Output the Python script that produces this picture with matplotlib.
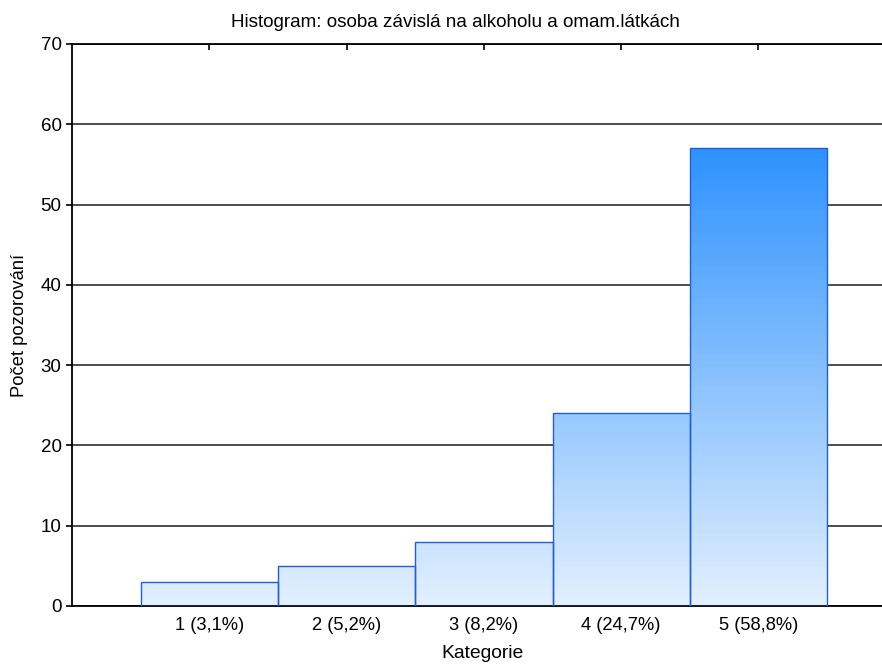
import matplotlib.pyplot as plt
import numpy as np
from matplotlib.colors import LinearSegmentedColormap

plt.rcParams['font.family'] = ['Liberation Sans', 'DejaVu Sans']

categories = [1, 2, 3, 4, 5]
labels = ["1 (3,1%)", "2 (5,2%)", "3 (8,2%)", "4 (24,7%)", "5 (58,8%)"]
counts = [3, 5, 8, 24, 57]

fig = plt.figure(figsize=(8.82, 6.70), dpi=100)
ax = fig.add_axes([72 / 882, 64 / 670, 810 / 882, 562 / 670])

ax.yaxis.grid(True, color='#303030', linewidth=1.2)
ax.set_axisbelow(True)

# vertical gradient shared by all bars
cmap = LinearSegmentedColormap.from_list('blu', ['#e3f0fe', '#2e92ff'])
grad = np.linspace(0, 1, 256).reshape(-1, 1)
top = max(counts)

bars = ax.bar(categories, counts, width=1.0, facecolor='none',
              edgecolor='#1f5ed8', linewidth=1.0, zorder=3)
for b in bars:
    im = ax.imshow(grad, cmap=cmap, aspect='auto', origin='lower',
                   extent=(0, 5.9, 0, top), zorder=2)
    im.set_clip_path(b)

ax.set_xlim(0, 5.9)
ax.set_ylim(0, 70)

ax.set_xticks(categories)
ax.set_xticklabels(labels, fontsize=13.2)
ax.set_yticks(range(0, 71, 10))
ax.tick_params(axis='y', labelsize=13.5, direction='out', length=4, width=1.2)
ax.tick_params(axis='x', direction='in', length=4, width=1.2, top=True, pad=8)

for s in ['left', 'bottom', 'top']:
    ax.spines[s].set_linewidth(1.3)
ax.spines['right'].set_visible(False)

ax.set_title("Histogram: osoba závislá na alkoholu a omam.látkách",
             fontsize=13.6, pad=12, x=0.473)
ax.set_xlabel("Kategorie", fontsize=13.9, labelpad=8, x=0.507)
ax.set_ylabel("Počet pozorování", fontsize=13.2, labelpad=9)

fig.savefig("out.png", dpi=100)
